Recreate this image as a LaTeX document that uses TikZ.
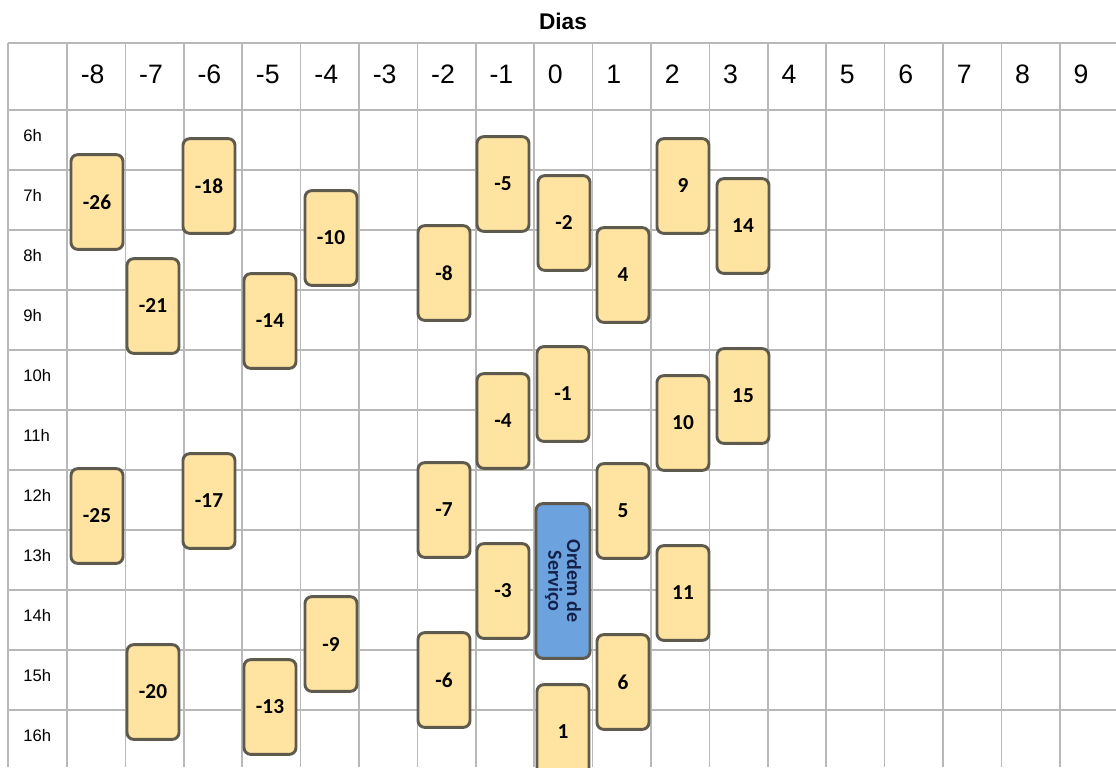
\documentclass[tikz,border=0pt]{standalone}
\usepackage{fontspec}
\setmainfont{Liberation Sans}
\newfontfamily\cardfont{Carlito}
\usepackage{tikz}

\definecolor{gridgray}{HTML}{B8B8B8}
\definecolor{cardfill}{HTML}{FFE3A0}
\definecolor{cardline}{HTML}{5E5A4E}
\definecolor{osfill}{HTML}{6CA2DE}
\definecolor{ostext}{HTML}{13214A}

\tikzset{
  card/.style={draw=cardline, fill=cardfill, line width=2.2pt, rounded corners=5pt,
    minimum width=39pt, minimum height=71pt, inner sep=0pt,
    font=\cardfont\bfseries\fontsize{16}{16}\selectfont},
  ordem/.style={card, fill=osfill, minimum height=116pt, minimum width=40.5pt,
    text=ostext, font=\cardfont\bfseries\fontsize{15}{14}\selectfont}
}

\begin{document}
\begin{tikzpicture}[x=0.75pt, y=-0.75pt]
			\path [use as bounding box, clip] (0,0) rectangle (1116,767);
			\fill [white] (0,0) rectangle (1116,767);
			
			\foreach \y in {43,110,170,...,710}
				\draw [gridgray, line width=1.1pt] (8,\y) -- (1116,\y);
			\draw [gridgray, line width=1.1pt] (8,43) -- (8,767);
			\foreach \c [count=\i from 0] in {-8,...,9} {
				\draw [gridgray, line width=1.1pt] (67+58.4*\i,43) -- (67+58.4*\i,767);
				\node [anchor=base west, inner sep=0pt, font=\fontsize{20}{20}\selectfont] (col\i) at (80.5+58.4*\i,84) {\c};
			}
			\foreach \h [count=\i from 0] in {6,...,16}
				\node [anchor=base west, inner sep=0pt, font=\fontsize{12.5}{12.5}\selectfont] (hora\h) at (23,141+60*\i) {\h h};
			
			\node [anchor=base, inner sep=0pt, font=\bfseries\fontsize{17}{17}\selectfont] (dias) at (563,30) {Dias};
			
			\node [card] (m26) at (97,202) {-26};
			\node [card] (m18) at (209,186) {-18};
			\node [card] (m10) at (331,238) {-10};
			\node [card] (m21) at (153,306) {-21};
			\node [card] (m14) at (270,321) {-14};
			\node [card] (m8) at (444,273) {-8};
			\node [card] (m5) at (503,184) {-5};
			\node [card] (m2) at (564,223) {-2};
			\node [card] (p4) at (623,275) {4};
			\node [card] (p9) at (683,186) {9};
			\node [card] (p14) at (743,226) {14};
			
			\node [card] (m1) at (563,394) {-1};
			\node [card] (m4) at (503,421) {-4};
			\node [card] (p10) at (683,423) {10};
			\node [card] (p15) at (743,396) {15};
			
			\node [card] (m25) at (97,516) {-25};
			\node [card] (m17) at (209,501) {-17};
			\node [card] (m7) at (444,510) {-7};
			\node [card] (p5) at (623,511) {5};
			\node [card] (m3) at (503,591) {-3};
			\node [card] (p11) at (683,593) {11};
			\node [ordem] (os) at (563,581) {};
			\node [rotate=-90, align=center, text=ostext, inner sep=0pt,
				font=\cardfont\bfseries\fontsize{15}{14}\selectfont] (ostxt) at (os.center) {Ordem de\\Serviço};
			
			\node [card] (m9) at (331,644) {-9};
			\node [card] (m20) at (153,692) {-20};
			\node [card] (m13) at (270,707) {-13};
			\node [card] (m6) at (444,680) {-6};
			\node [card] (p6) at (623,682) {6};
			\node [card] (p1) at (563,732) {1};
		\end{tikzpicture}
\end{document}
